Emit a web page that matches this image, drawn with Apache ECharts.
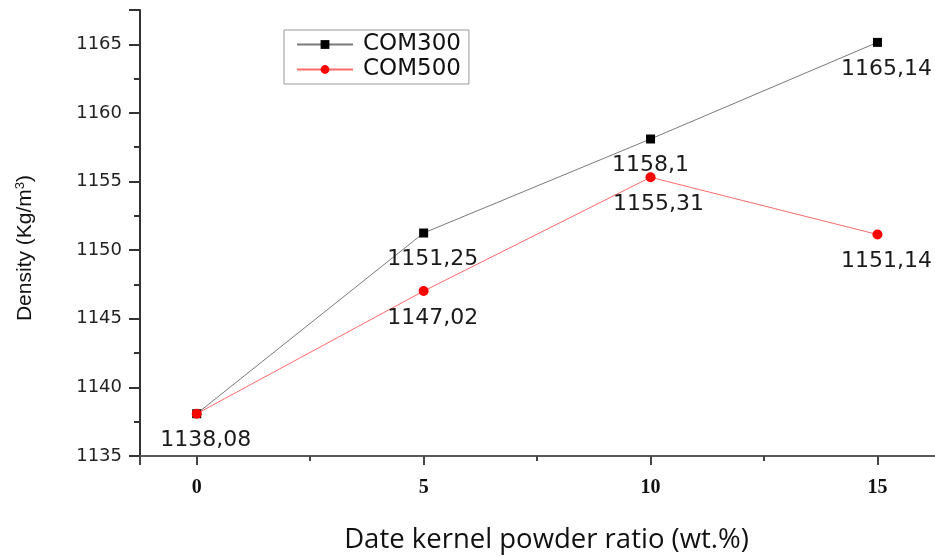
<!DOCTYPE html>
<html>
<head>
<meta charset="utf-8">
<script src="https://cdn.jsdelivr.net/npm/echarts@6/dist/echarts.min.js"></script>
<style>
  html, body { margin: 0; padding: 0; background: #fff; }
  #chart { width: 935px; height: 558px; }
</style>
</head>
<body>
<div id="chart"></div>
<script>
// powder ratio (wt.%) on the x axis
const ratios = [0, 5, 10, 15];
// density values
const com300 = [1138.08, 1151.25, 1158.1, 1165.14];
const com500 = [1138.08, 1147.02, 1155.31, 1151.14];
const seriesNames = ['COM300', 'COM500'];

const chart = echarts.init(document.getElementById('chart'));

// numbers are written with a decimal comma in the picture
function comma(v) {
  return String(v).replace('.', ',');
}

function points(values, hideFirst, shiftX) {
  return values.map(function (v, i) {
    return {
      value: [ratios[i], v],
      label: {
        show: !(hideFirst && i === 0),
        offset: [shiftX[i], 0]
      }
    };
  });
}

const labelStyle = {
  show: true,
  position: 'bottom',
  distance: 11,
  fontFamily: 'DejaVu Sans',
  fontSize: 22,
  color: '#1a1a1a',
  formatter: function (p) { return comma(p.value[1]); }
};

chart.setOption({
  animation: false,
  backgroundColor: '#fff',
  grid: { left: 140, right: -6, top: 10, bottom: 102, outerBoundsMode: 'none' },
  legend: {
    data: seriesNames,
    orient: 'vertical',
    left: 284,
    top: 30,
    padding: [3, 8, 3, 12],
    itemWidth: 56,
    itemHeight: 11,
    itemGap: 2,
    borderColor: '#999',
    borderWidth: 1,
    textStyle: {
      fontFamily: 'DejaVu Sans',
      fontSize: 23,
      color: '#111',
      padding: [0, 0, 0, 5]
    }
  },
  xAxis: [{
    type: 'value',
    min: -1.25,
    max: 16.4,
    minInterval: 5,
    maxInterval: 5,
    splitLine: { show: false },
    axisLine: { onZero: false, lineStyle: { color: '#5a5a5a', width: 2 } },
    axisTick: { length: 9, lineStyle: { color: '#444', width: 2 } },
    axisLabel: {
      margin: 22,
      fontFamily: 'Liberation Serif',
      fontWeight: 'bold',
      fontSize: 20,
      color: '#111',
      formatter: function (v) { return v % 5 === 0 ? String(v) : ''; }
    },
    name: 'Date kernel powder ratio (wt.%)',
    nameLocation: 'middle',
    nameGap: 70,
    nameTextStyle: { fontFamily: 'Open Sans', fontSize: 27.5, color: '#111', padding: [0, 0, 0, 12] }
  }, {
    // minor ticks every 2.5
    type: 'value',
    min: -1.25,
    max: 16.4,
    minInterval: 2.5,
    maxInterval: 2.5,
    position: 'bottom',
    splitLine: { show: false },
    axisLine: { show: false, onZero: false },
    axisTick: { length: 5, lineStyle: { color: '#444', width: 2 } },
    axisLabel: { show: false }
  }],
  yAxis: [{
    type: 'value',
    min: 1135,
    max: 1167.5,
    interval: 5,
    splitLine: { show: false },
    axisLine: { onZero: false, lineStyle: { color: '#333', width: 2 } },
    axisTick: { length: 11, lineStyle: { color: '#333', width: 2 } },
    axisLabel: {
      margin: 18,
      fontFamily: 'DejaVu Sans',
      fontSize: 18,
      color: '#222',
      formatter: function (v) { return v % 5 === 0 ? String(v) : ''; }
    },
    name: '{a|Density (Kg/m}{s|3}{a|)}',
    nameLocation: 'middle',
    nameGap: 104,
    nameTextStyle: {
      padding: [0, 30, 0, 0],
      rich: {
        a: { fontFamily: 'Liberation Sans', fontSize: 21, color: '#111' },
        s: { fontFamily: 'Liberation Sans', fontSize: 13, color: '#111', verticalAlign: 'top', padding: [0, 0, 9, 0] }
      }
    }
  }, {
    // minor ticks every 2.5
    type: 'value',
    min: 1135,
    max: 1167.5,
    interval: 2.5,
    position: 'left',
    splitLine: { show: false },
    axisLine: { show: false, onZero: false },
    axisTick: { length: 6, lineStyle: { color: '#333', width: 2 } },
    axisLabel: { show: false }
  }],
  series: [{
    name: seriesNames[0],
    type: 'line',
    xAxisIndex: 0,
    yAxisIndex: 0,
    symbol: 'rect',
    symbolSize: 9,
    itemStyle: { color: '#000' },
    lineStyle: { color: '#7a7a7a', width: 1 },
    label: labelStyle,
    data: points(com300, true, [9, 9, 0, 9])
  }, {
    name: seriesNames[1],
    type: 'line',
    xAxisIndex: 0,
    yAxisIndex: 0,
    symbol: 'circle',
    symbolSize: 10,
    itemStyle: { color: '#ff0000' },
    lineStyle: { color: '#ff6a6a', width: 1 },
    label: labelStyle,
    data: points(com500, false, [9, 9, 8, 9])
  }]
});
</script>
</body>
</html>
